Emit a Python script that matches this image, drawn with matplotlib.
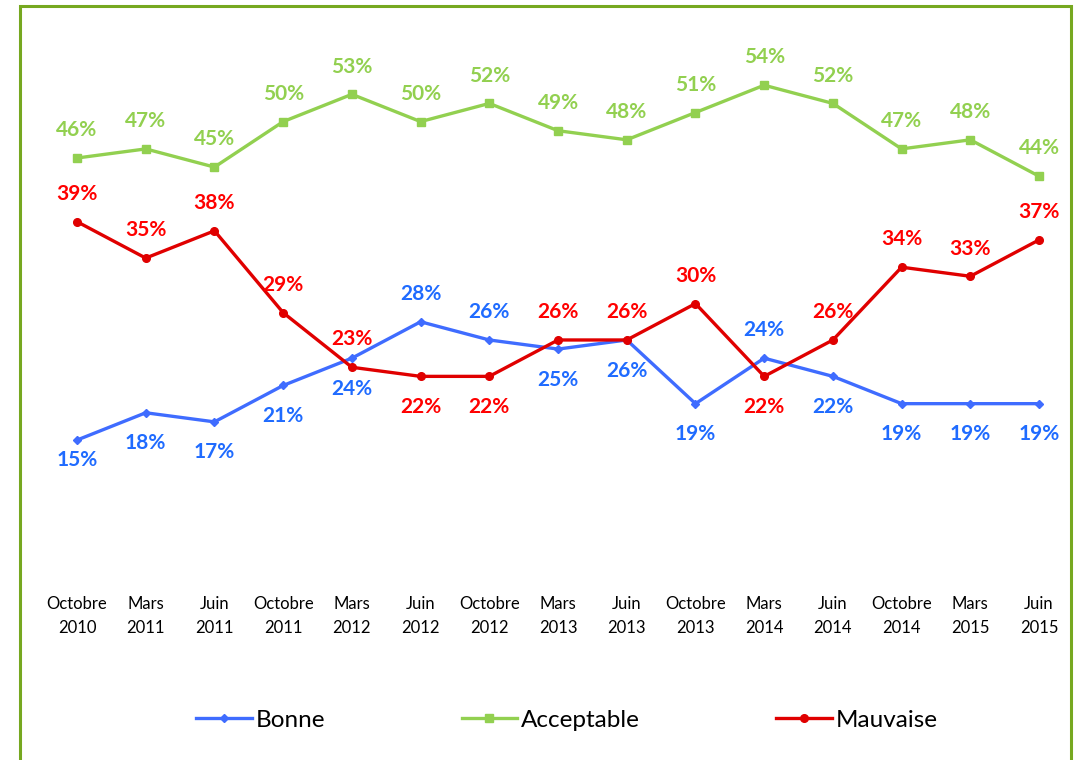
import matplotlib
matplotlib.use("Agg")
import matplotlib.pyplot as plt
from matplotlib.patches import Rectangle

plt.rcParams['font.family'] = ['Lato', 'DejaVu Sans']

periodes = ["Octobre\n2010", "Mars\n2011", "Juin\n2011", "Octobre\n2011", "Mars\n2012",
            "Juin\n2012", "Octobre\n2012", "Mars\n2013", "Juin\n2013", "Octobre\n2013",
            "Mars\n2014", "Juin\n2014", "Octobre\n2014", "Mars\n2015", "Juin\n2015"]
bonne = [15, 18, 17, 21, 24, 28, 26, 25, 26, 19, 24, 22, 19, 19, 19]
acceptable = [46, 47, 45, 50, 53, 50, 52, 49, 48, 51, 54, 52, 47, 48, 44]
mauvaise = [39, 35, 38, 29, 23, 22, 22, 26, 26, 30, 22, 26, 34, 33, 37]

# label position: 1 above the point, -1 below
pos_bonne = [-1, -1, -1, -1, -1, 1, 1, -1, -1, -1, 1, -1, -1, -1, -1]
pos_acc = [1] * 15
pos_mauv = [1, 1, 1, 1, 1, -1, -1, 1, 1, 1, -1, 1, 1, 1, 1]

fig = plt.figure(figsize=(10.8, 7.6), dpi=100)
ax = fig.add_axes([0.0395, 0.2414, 0.9544, 0.7183])

x = range(len(periodes))
series = [
    ("Bonne", bonne, pos_bonne, "#3F6CFF", "#1F6BFF", "D", 4),
    ("Acceptable", acceptable, pos_acc, "#92D050", "#92D050", "s", 5.5),
    ("Mauvaise", mauvaise, pos_mauv, "#E00000", "#FF0000", "o", 5.5),
]
for name, vals, pos, lc, tc, mk, ms in series:
    ax.plot(x, vals, color=lc, lw=2.4, marker=mk, ms=ms, label=name)
    for i, v in enumerate(vals):
        off = 20 if pos[i] > 0 else -22
        if name == "Bonne" and i == 0:
            off = -14
        ax.annotate(f"{v}%", (i, v), xytext=(0, off), textcoords="offset points",
                    ha="center", va="center", color=tc, fontsize=15,
                    fontweight="bold")

ax.set_xlim(-0.5, len(periodes) - 0.5)
ax.set_ylim(0, 60)
ax.set_xticks(list(x))
ax.set_xticklabels(periodes, fontsize=12, linespacing=1.6)
ax.tick_params(axis="x", length=0, pad=14)
ax.set_yticks([])
for s in ax.spines.values():
    s.set_visible(False)

fig.legend(loc="center", bbox_to_anchor=(0.525, 0.052), ncol=3, frameon=False,
           fontsize=17.5, handlelength=2.3, columnspacing=5.6, handletextpad=0.15)

fig.patches.append(Rectangle((0.0185, -0.02), 0.973, 1.012, transform=fig.transFigure,
                             fill=False, edgecolor="#76A820", lw=2.2))

fig.savefig("out.png", dpi=100)
